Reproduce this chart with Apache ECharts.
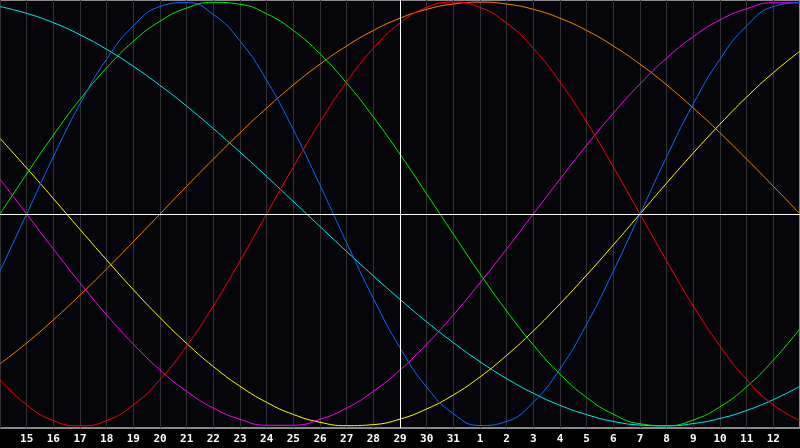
<!DOCTYPE html>
<html>
<head>
<meta charset="utf-8">
<script src="https://cdn.jsdelivr.net/npm/echarts@6/dist/echarts.min.js"></script>
<style>
html,body{margin:0;padding:0;background:#000;}
#chart{width:800px;height:448px;}
</style>
</head>
<body>
<div id="chart"></div>
<script>
const days = ['14','15','16','17','18','19','20','21','22','23','24','25','26','27','28','29','30','31','1','2','3','4','5','6','7','8','9','10','11','12','13'];
const physical = [-0.27, 0, 0.27, 0.52, 0.731, 0.888, 0.979, 0.998, 0.942, 0.817, 0.631, 0.398, 0.136, -0.136, -0.398, -0.631, -0.817, -0.942, -0.998, -0.979, -0.888, -0.731, -0.52, -0.27, 0, 0.27, 0.52, 0.731, 0.888, 0.979, 0.998];
const emotional = [-0.782, -0.901, -0.975, -1, -0.975, -0.901, -0.782, -0.623, -0.434, -0.222, 0, 0.222, 0.434, 0.623, 0.782, 0.901, 0.975, 1, 0.975, 0.901, 0.782, 0.623, 0.434, 0.222, 0, -0.222, -0.434, -0.623, -0.782, -0.901, -0.975];
const intellectual = [0, 0.189, 0.372, 0.541, 0.69, 0.815, 0.91, 0.972, 0.999, 0.99, 0.945, 0.866, 0.756, 0.618, 0.458, 0.282, 0.095, -0.095, -0.282, -0.458, -0.618, -0.756, -0.866, -0.945, -0.99, -0.999, -0.972, -0.91, -0.815, -0.69, -0.541];
const intuitive = [0.165, 0, -0.165, -0.325, -0.476, -0.614, -0.736, -0.837, -0.916, -0.969, -0.997, -0.997, -0.969, -0.916, -0.837, -0.736, -0.614, -0.476, -0.325, -0.165, 0, 0.165, 0.325, 0.476, 0.614, 0.736, 0.837, 0.916, 0.969, 0.997, 0.997];
const aesthetic = [0.357, 0.217, 0.073, -0.073, -0.217, -0.357, -0.489, -0.611, -0.72, -0.813, -0.889, -0.946, -0.983, -0.999, -0.994, -0.968, -0.92, -0.854, -0.769, -0.667, -0.552, -0.424, -0.288, -0.146, 0, 0.146, 0.288, 0.424, 0.552, 0.667, 0.769];
const awareness = [-0.707, -0.609, -0.5, -0.383, -0.259, -0.131, 0, 0.131, 0.259, 0.383, 0.5, 0.609, 0.707, 0.793, 0.866, 0.924, 0.966, 0.991, 1, 0.991, 0.966, 0.924, 0.866, 0.793, 0.707, 0.609, 0.5, 0.383, 0.259, 0.131, 0];
const spiritual = [0.979, 0.947, 0.903, 0.846, 0.777, 0.697, 0.607, 0.509, 0.403, 0.292, 0.177, 0.059, -0.059, -0.177, -0.292, -0.403, -0.509, -0.607, -0.697, -0.777, -0.846, -0.903, -0.947, -0.979, -0.996, -1, -0.989, -0.965, -0.927, -0.876, -0.813];
const todayLabel = '29';

const chart = echarts.init(document.getElementById('chart'), null, {renderer: 'canvas'});

function line(name, data, color, extra) {
  return Object.assign({
    name: name,
    type: 'line',
    data: data,
    smooth: true,
    symbol: 'none',
    lineStyle: {color: color, width: 1},
    itemStyle: {color: color},
    silent: true,
    animation: false
  }, extra || {});
}

chart.setOption({
  backgroundColor: '#000000',
  animation: false,
  grid: {
    left: 0, right: 0, top: 0, bottom: 20,
    show: true,
    backgroundColor: '#060509',
    borderColor: '#8a8a8a',
    borderWidth: 2
  },
  xAxis: {
    type: 'category',
    data: days,
    boundaryGap: false,
    axisLine: {show: false},
    axisTick: {show: false},
    axisLabel: {
      interval: function (index) { return index > 0 && index < days.length - 1; },
      color: '#ffffff',
      fontFamily: 'DejaVu Sans Mono',
      fontWeight: 'bold',
      fontSize: 11,
      margin: 6
    },
    splitLine: {show: true, interval: 0, lineStyle: {color: '#333333', width: 1}}
  },
  yAxis: {
    type: 'value',
    min: -1.01,
    max: 1.01,
    show: false,
    splitLine: {show: false}
  },
  series: [
    line('markers', [], '#ffffff', {
      z: 1,
      markLine: {
        silent: true,
        symbol: 'none',
        animation: false,
        label: {show: false},
        lineStyle: {color: '#ffffff', width: 1, type: 'solid'},
        data: [{xAxis: todayLabel}, {yAxis: 0}]
      }
    }),
    line('Spiritual', spiritual, '#00eeee'),
    line('Awareness', awareness, '#ff8000'),
    line('Aesthetic', aesthetic, '#ffff00'),
    line('Intuitive', intuitive, '#ff00ff'),
    line('Intellectual', intellectual, '#00ee00'),
    line('Emotional', emotional, '#ff0000'),
    line('Physical', physical, '#1468ff')
  ]
});
</script>
</body>
</html>
